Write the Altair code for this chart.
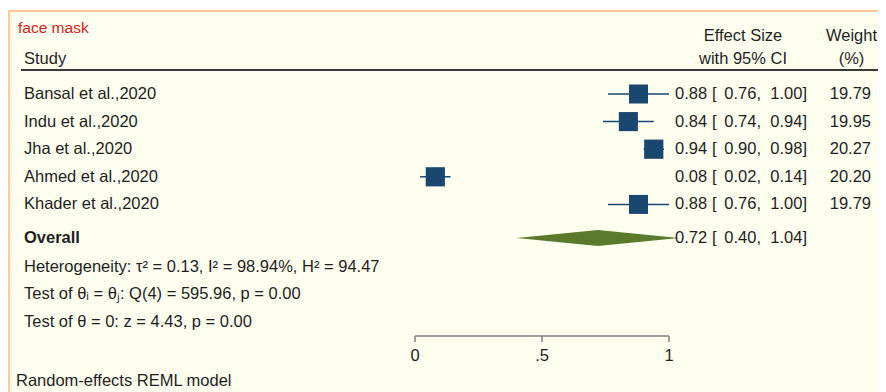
import altair as alt
import pandas as pd

# ---------------- data ----------------
title_text = "face mask"
studies = ["Bansal et al.,2020", "Indu et al.,2020", "Jha et al.,2020",
           "Ahmed et al.,2020", "Khader et al.,2020"]
es = [0.88, 0.84, 0.94, 0.08, 0.88]
lo = [0.76, 0.74, 0.90, 0.02, 0.76]
hi = [1.00, 0.94, 0.98, 0.14, 1.00]
weights = [19.79, 19.95, 20.27, 20.20, 19.79]
overall_label = "Overall"
overall_es, overall_lo, overall_hi = 0.72, 0.40, 1.04
stats_lines = ["Heterogeneity: τ² = 0.13, I² = 98.94%, H² = 94.47",
               "Test of θᵢ = θⱼ: Q(4) = 595.96, p = 0.00",
               "Test of θ = 0: z = 4.43, p = 0.00"]
tick_values = [0, 0.5, 1]
tick_labels = ["0", ".5", "1"]
footer_text = "Random-effects REML model"

# ---------------- layout / style ----------------
W, H = 870, 384
FONT = "Liberation Sans"
FS = 16.5
NAVY = "#1a476f"
GREEN = "#5b7a2c"
INK = "#1e1e1e"
BG = "#fffff0"
BORDER = "#ffc999"

X = alt.Scale(domain=[-1.60236, 1.82283], nice=False, zero=False)
Y = alt.Scale(domain=[-2.1159, 11.797], nice=False, zero=False, reverse=True)

rows = list(range(1, len(studies) + 1))
overall_row = 6.217
stat_rows = [7.25, 8.25, 9.26]

df = pd.DataFrame(dict(study=studies, es=es, lo=lo, hi=hi, w=weights, row=rows))
df["es_t"] = [f"{v:.2f}" for v in es]
df["lo_t"] = [f"{v:.2f}," for v in lo]
df["hi_t"] = [f"{v:.2f}]" for v in hi]
df["w_t"] = [f"{v:.2f}" for v in weights]
df["br"] = "["

ov = pd.DataFrame(dict(label=[overall_label], es=[overall_es], lo=[overall_lo],
                       hi=[overall_hi], row=[overall_row]))
ov["es_t"] = [f"{overall_es:.2f}"]
ov["lo_t"] = [f"{overall_lo:.2f},"]
ov["hi_t"] = [f"{overall_hi:.2f}]"]
ov["br"] = "["

hh = 0.29  # half height of diamond in row units
dia = pd.DataFrame(dict(x=[overall_lo, overall_es, overall_hi],
                        y1=[overall_row, overall_row - hh, overall_row],
                        y2=[overall_row, overall_row + hh, overall_row]))

st = pd.DataFrame(dict(t=stats_lines, row=stat_rows))
tk = pd.DataFrame(dict(v=tick_values, lab=tick_labels))
ax = pd.DataFrame(dict(a=[min(tick_values)], b=[max(tick_values)]))
one = pd.DataFrame(dict(k=[0]))

yrow = alt.Y("row:Q", scale=Y, axis=None)


def txt(data, text, x, align="left", **kw):
    base = dict(font=FONT, fontSize=FS, color=INK, align=align, baseline="middle")
    base.update(kw)
    return alt.Chart(data).mark_text(**base).encode(x=alt.value(x), y=yrow, text=text)


def label(text, x, y, align="left", **kw):
    base = dict(font=FONT, fontSize=FS, color=INK, align=align, baseline="middle", text=text)
    base.update(kw)
    return alt.Chart(one).mark_text(**base).encode(x=alt.value(x), y=alt.value(y))


bg = alt.Chart(one).mark_rect(fill=BG, stroke=BORDER, strokeWidth=2).encode(
    x=alt.value(1), x2=alt.value(W + 20), y=alt.value(3), y2=alt.value(H + 20))

hdr_rule = alt.Chart(one).mark_rule(color="#3a3a3a", strokeWidth=2).encode(
    x=alt.value(13), x2=alt.value(W), y=alt.value(62))

axis_line = alt.Chart(ax).mark_rule(color="#808080", strokeWidth=1.5).encode(
    x=alt.X("a:Q", scale=X, axis=None), x2="b:Q", y=alt.value(328))
axis_ticks = alt.Chart(tk).mark_rule(color="#808080", strokeWidth=1.5).encode(
    x=alt.X("v:Q", scale=X, axis=None), y=alt.value(328), y2=alt.value(334))
axis_labels = alt.Chart(tk).mark_text(font=FONT, fontSize=FS, color=INK,
                                      align="center", baseline="middle").encode(
    x=alt.X("v:Q", scale=X, axis=None), y=alt.value(348), text="lab:N")

ci = alt.Chart(df).mark_rule(color=NAVY, strokeWidth=1.5).encode(
    x=alt.X("lo:Q", scale=X, axis=None), x2="hi:Q", y=yrow)
sq = alt.Chart(df).mark_square(color=NAVY, filled=True, opacity=1).encode(
    x=alt.X("es:Q", scale=X, axis=None), y=yrow,
    size=alt.Size("w:Q", scale=alt.Scale(domain=[0, 20.27], range=[0, 370]), legend=None))

diamond = alt.Chart(dia).mark_area(color=GREEN, opacity=1).encode(
    x=alt.X("x:Q", scale=X, axis=None),
    y=alt.Y("y1:Q", scale=Y, axis=None), y2="y2:Q")

layers = [
    bg, hdr_rule, axis_line, axis_ticks, axis_labels, ci, sq, diamond,
    label(title_text, 10, 20, color="#dd2020", fontSize=15.5),
    label("Study", 16, 50.5),
    label("Effect Size", 735, 27.5, align="center"),
    label("with 95% CI", 735, 50.5, align="center"),
    label("Weight", 869, 27.5, align="right"),
    label("(%)", 843.5, 50.5, align="center"),
    txt(df, "study:N", 16),
    txt(df, "es_t:N", 667),
    txt(df, "br:N", 704),
    txt(df, "lo_t:N", 753, align="right"),
    txt(df, "hi_t:N", 799, align="right"),
    txt(df, "w_t:N", 863, align="right"),
    txt(ov, "label:N", 16, fontWeight="bold"),
    txt(ov, "es_t:N", 667),
    txt(ov, "br:N", 704),
    txt(ov, "lo_t:N", 753, align="right"),
    txt(ov, "hi_t:N", 799, align="right"),
    txt(st, "t:N", 16),
    label(footer_text, 8, 373),
]

chart = alt.layer(*layers).properties(
    width=W, height=H, autosize=alt.AutoSizeParams(type="none"), padding=0,
    background="white",
).configure_view(strokeWidth=0)

chart.save("out.html", embed_options={"renderer": "svg", "actions": False})
